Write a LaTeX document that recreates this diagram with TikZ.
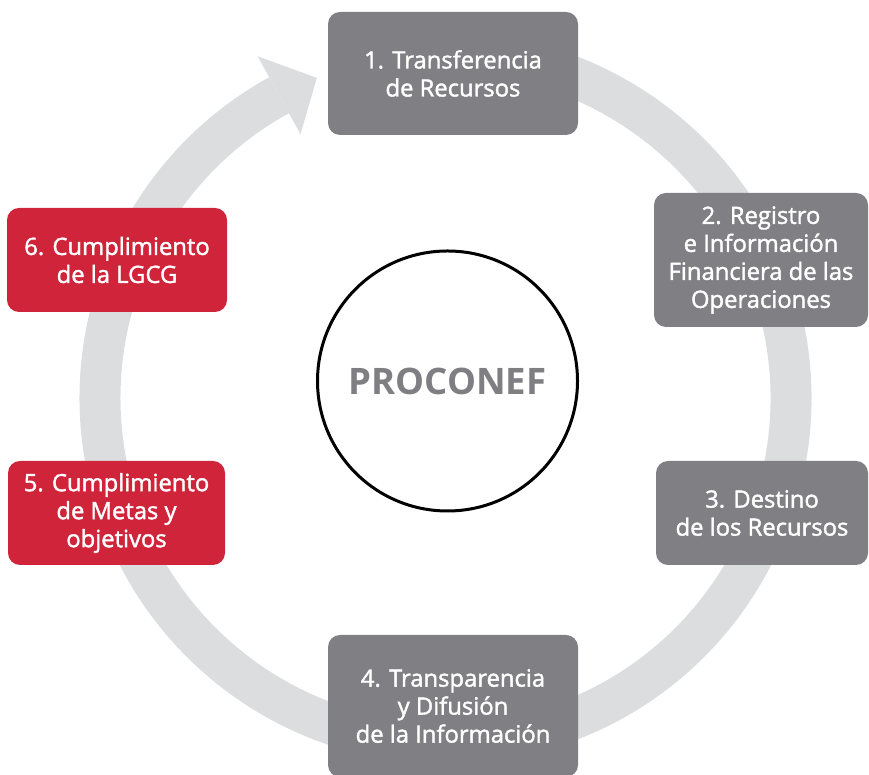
\documentclass[tikz,border=0pt]{standalone}
\usepackage{fontspec}
\setmainfont{Open Sans}
\newfontfamily\stagefont[FakeBold=1.6]{Open Sans}
\usepackage{tikz}
\usetikzlibrary{calc}
\definecolor{boxgray}{HTML}{808084}
\definecolor{boxred}{HTML}{D0243A}
\definecolor{ringgray}{HTML}{DCDDDF}
\definecolor{coregray}{HTML}{7F7F83}
\tikzset{
    stage/.style={rounded corners=12pt, text=white, align=center, inner sep=0pt,
        font=\stagefont\fontsize{23.8}{28}\selectfont},
    gstage/.style={stage, fill=boxgray},
    rstage/.style={stage, fill=boxred},
}

\begin{document}
\begin{tikzpicture}[x=1pt,y=1pt]
        \useasboundingbox (0,0) rectangle (869,775);
        \clip (0,0) rectangle (869,775);

        % cycle ring with its arrow head
        \coordinate (c) at (445.5,377);
        \draw[ringgray, line width=41pt] ($(c)+(100:345.5)$) arc[start angle=100, end angle=-241.2, radius=345.5];
        \fill[ringgray] ($(c)+(118.8:390)$) -- ($(c)+(111.9:345)$) -- ($(c)+(118.8:301)$) -- cycle;

        \draw (453,701.5) node[gstage, minimum width=250pt, minimum height=123pt](s1){1. Transferencia\\de Recursos};
        \draw (761,515) node[gstage, minimum width=214pt, minimum height=134pt](s2){2. Registro\\e Información\\Financiera de las\\Operaciones};
        \draw (762,262) node[gstage, minimum width=212pt, minimum height=104pt](s3){3. Destino\\de los Recursos};
        \draw (453,69) node[gstage, minimum width=250pt, minimum height=142pt](s4){4. Transparencia\\y Difusión\\de la Información};
        \draw (116.5,262) node[rstage, minimum width=217pt, minimum height=104pt](s5){5. Cumplimiento\\de Metas y\\objetivos};
        \draw (117,515) node[rstage, minimum width=220pt, minimum height=104pt](s6){6. Cumplimiento\\de la LGCG};

        \draw (447.5,394) node[circle, draw, fill=white, line width=3pt, minimum size=260pt, text=coregray,
            font=\bfseries\fontsize{36.5}{40}\selectfont](core){PROCONEF};
    \end{tikzpicture}
\end{document}
